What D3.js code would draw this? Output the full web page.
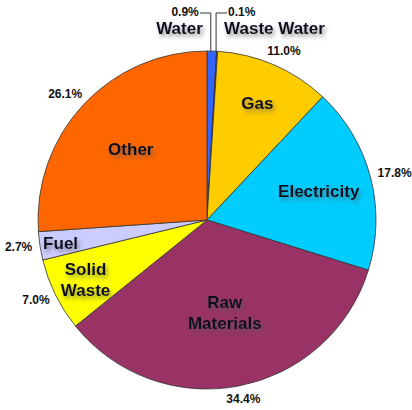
<!DOCTYPE html>
<html>
<head>
<meta charset="utf-8">
<script src="https://cdn.jsdelivr.net/npm/d3@7"></script>
<style>
  body { margin: 0; background: #fff; }
  text { font-family: "Liberation Sans", Arial, sans-serif; font-weight: bold; }
</style>
</head>
<body>
<div id="chart-area"></div>
<script>
const categories = ["Water", "Waste Water", "Gas", "Electricity", "Raw Materials", "Solid Waste", "Fuel", "Other"];
const shares = [0.9, 0.1, 11.0, 17.8, 34.4, 7.0, 2.7, 26.1];
const colors = ["#3366FF", "#333399", "#FFCC00", "#00CCFF", "#993366", "#FFFF00", "#CCCCFF", "#FF6600"];

const width = 412, height = 410;
const cx = 207, cy = 220, R = 169;

const svg = d3.select("#chart-area").append("svg")
    .attr("width", width)
    .attr("height", height);

// soft grey drop shadow used by the slice names
const f = svg.append("defs").append("filter").attr("id", "shadow")
    .attr("x", "-20%").attr("y", "-40%").attr("width", "150%").attr("height", "200%");
f.append("feDropShadow")
    .attr("dx", 2).attr("dy", 3).attr("stdDeviation", 2)
    .attr("flood-color", "#555").attr("flood-opacity", 0.6);

const data = categories.map((c, i) => ({ name: c, value: shares[i], color: colors[i] }));

const pie = d3.pie().value(d => d.value).sort(null);
const arcs = pie(data);
const arc = d3.arc().innerRadius(0).outerRadius(R);
const total = d3.sum(shares);

const g = svg.append("g").attr("transform", `translate(${cx},${cy})`);

g.selectAll("path")
    .data(arcs)
  .enter().append("path")
    .attr("d", arc)
    .attr("fill", d => d.data.color)
    .attr("stroke", "#333")
    .attr("stroke-width", 0.8);

const fmt = d3.format(".1f");
const big = arcs.filter(d => d.data.value >= 1);
const tiny = arcs.filter(d => d.data.value < 1);

// percentages outside the pie, the near edge of each label sits just off the rim
const outerArc = d3.arc().innerRadius(R + 8).outerRadius(R + 8);
g.selectAll("text.pct")
    .data(big)
  .enter().append("text")
    .attr("class", "pct")
    .attr("text-anchor", "middle")
    .attr("dominant-baseline", "middle")
    .attr("font-size", 12)
    .attr("fill", "#111")
    .text(d => fmt(d.data.value) + "%")
    .attr("transform", function(d) {
      const [x, y] = outerArc.centroid(d);
      const a = (d.startAngle + d.endAngle) / 2;
      const w = this.getComputedTextLength();
      return `translate(${x + w / 2 * Math.sin(a)},${y - 6 * Math.cos(a)})`;
    });

// slice names, smaller slices pushed towards the rim
const inner = d => {
  const r = R * (1 - 0.75 * Math.sqrt(d.data.value / total));
  return d3.arc().innerRadius(r).outerRadius(r).centroid(d);
};
const names = g.selectAll("text.name")
    .data(big)
  .enter().append("text")
    .attr("class", "name")
    .attr("transform", d => `translate(${inner(d)})`)
    .attr("text-anchor", "middle")
    .attr("font-size", 17)
    .attr("fill", "#111122")
    .attr("filter", "url(#shadow)");
names.each(function(d) {
  const lines = d.data.name.split(" ");
  const t = d3.select(this);
  lines.forEach((l, i) => {
    t.append("tspan")
      .attr("x", 0)
      .attr("y", (i - (lines.length - 1) / 2) * 21 + 6)
      .text(l);
  });
});

// the two tiny slices get leader lines going up to labels at the top
const lineY = 13 - cy;
tiny.forEach((d, i) => {
  const a = (d.startAngle + d.endAngle) / 2;
  const x = R * Math.sin(a) - 1;
  const y = -R * Math.cos(a);
  const dir = i === 0 ? -1 : 1;
  g.append("path")
    .attr("d", `M${x},${y}V${lineY}h${dir * 11}`)
    .attr("fill", "none")
    .attr("stroke", "#333")
    .attr("stroke-width", 1);
  g.append("text")
    .attr("x", x + dir * 12)
    .attr("y", lineY + 3)
    .attr("text-anchor", dir < 0 ? "end" : "start")
    .attr("font-size", 12)
    .attr("fill", "#111")
    .text(fmt(d.data.value) + "%");
  g.append("text")
    .attr("x", x + dir * 8)
    .attr("y", lineY + 21)
    .attr("text-anchor", dir < 0 ? "end" : "start")
    .attr("font-size", 17)
    .attr("fill", "#111122")
    .attr("filter", "url(#shadow)")
    .text(d.data.name);
});
</script>
</body>
</html>
